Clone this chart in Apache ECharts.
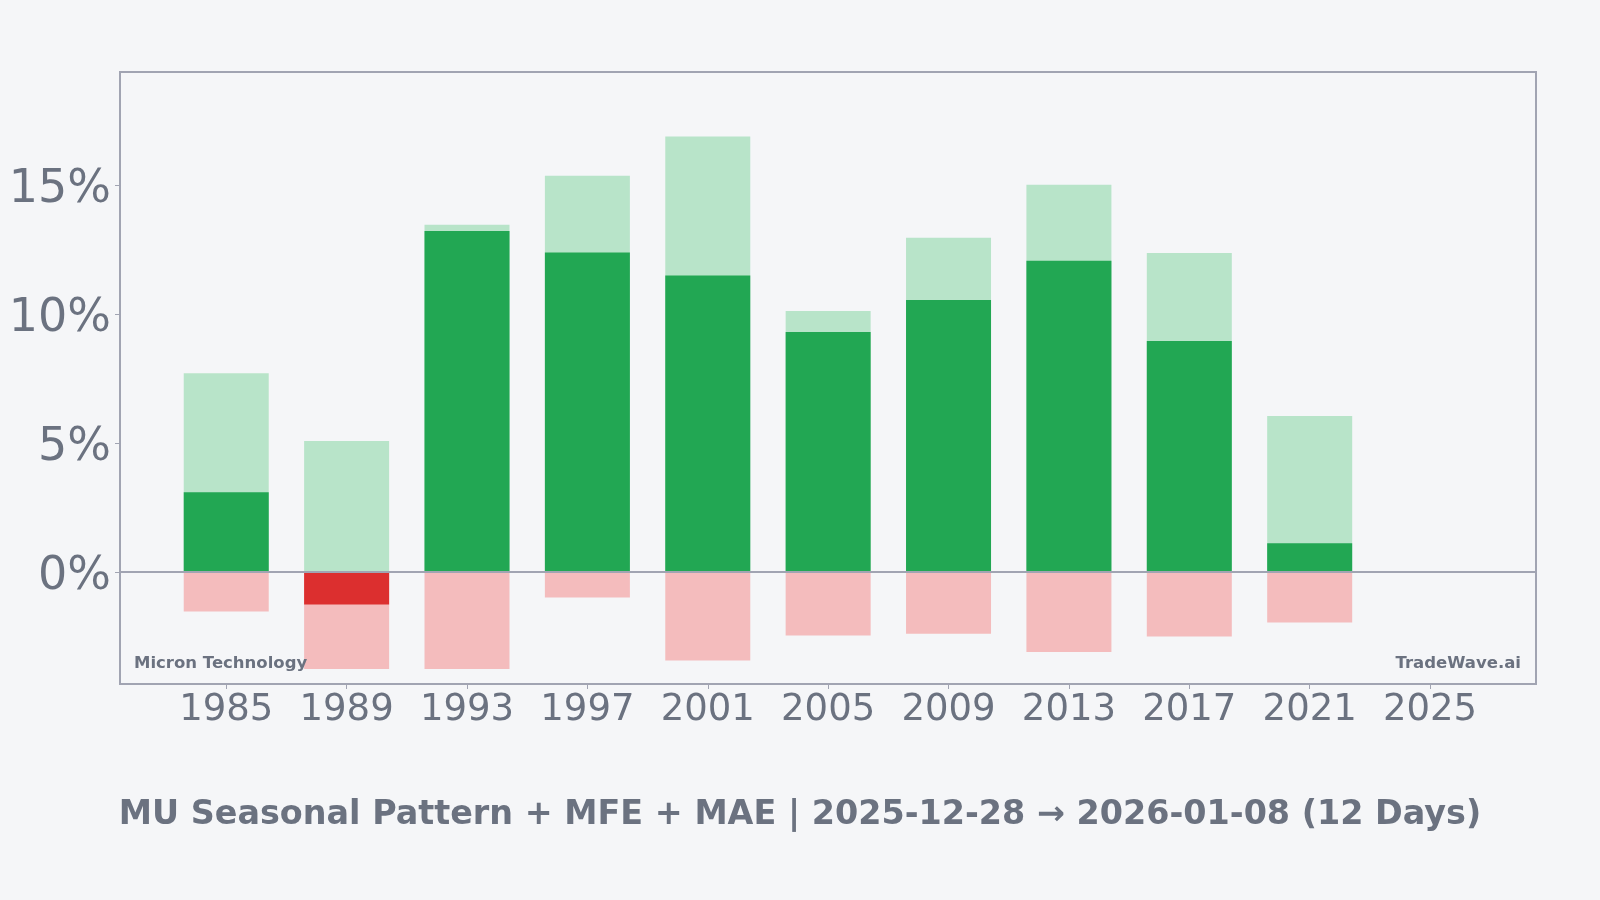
<!DOCTYPE html>
<html>
<head>
<meta charset="utf-8">
<title>MU Seasonal Pattern</title>
<script src="https://cdn.jsdelivr.net/npm/echarts@6/dist/echarts.min.js"></script>
<style>
  html, body { margin: 0; padding: 0; background: #f5f6f8; }
  #chart { width: 1600px; height: 900px; }
</style>
</head>
<body>
<div id="chart"></div>
<script>
// data (percent)
const years = [1985, 1989, 1993, 1997, 2001, 2005, 2009, 2013, 2017, 2021];
const mfe = [7.71, 5.08, 13.46, 15.36, 16.88, 10.12, 12.96, 15.01, 12.37, 6.05];
const mae = [-1.52, -3.75, -3.75, -0.98, -3.42, -2.45, -2.38, -3.09, -2.49, -1.95];
const ret = [3.10, -1.25, 13.22, 12.39, 11.50, 9.31, 10.55, 12.07, 8.96, 1.12];
const xTicks = [1985, 1989, 1993, 1997, 2001, 2005, 2009, 2013, 2017, 2021, 2025];
const yTicks = [0, 5, 10, 15];

const GRAY = '#6b7280';
const BORDER = '#a1a4b2';
const FONT = 'DejaVu Sans';

const chart = echarts.init(document.getElementById('chart'));

/* 方法：组装一列数据 */
function pairs(vals) {
  return years.map((y, i) => [y, vals[i]]);
}

chart.setOption({
  backgroundColor: '#f5f6f8',
  animation: false,
  textStyle: { fontFamily: FONT },
  title: {
    text: 'MU Seasonal Pattern + MFE + MAE | 2025-12-28 \u2192 2026-01-08 (12 Days)',
    left: 'center',
    top: 794,
    textStyle: { color: GRAY, fontSize: 33.4, fontWeight: 'bold', fontFamily: FONT }
  },
  grid: {
    left: 120, right: 64, top: 72, bottom: 216,
    show: true, borderColor: BORDER, borderWidth: 2, backgroundColor: 'transparent'
  },
  xAxis: {
    type: 'value',
    min: 1981.47,
    max: 2028.52,
    splitLine: { show: false },
    axisLine: { show: false, onZero: false },
    axisTick: { show: true, customValues: xTicks, length: 5, lineStyle: { color: BORDER, width: 1 } },
    axisLabel: {
      customValues: xTicks, color: GRAY, fontSize: 37, margin: 8, fontFamily: FONT,
      formatter: v => String(v)
    }
  },
  yAxis: {
    type: 'value',
    min: -4.33,
    max: 19.38,
    splitLine: { show: false },
    axisLine: { show: false, onZero: false },
    axisTick: { show: true, customValues: yTicks, length: 5, lineStyle: { color: BORDER, width: 1 } },
    axisLabel: {
      customValues: yTicks, color: GRAY, fontSize: 46, margin: 9, fontFamily: FONT,
      formatter: v => '{p|' + v + '%}',
      rich: {
        p: { color: GRAY, fontSize: 46, fontFamily: FONT, padding: [10, 0, 0, 0] }
      }
    }
  },
  series: [
    {
      name: 'MFE', type: 'bar', barWidth: 85, barGap: '-100%',
      itemStyle: { color: '#b8e4c9' },
      data: pairs(mfe)
    },
    {
      name: 'MAE', type: 'bar', barWidth: 85, barGap: '-100%',
      itemStyle: { color: '#f4bcbd' },
      data: pairs(mae)
    },
    {
      name: 'Return', type: 'bar', barWidth: 85, barGap: '-100%',
      itemStyle: { color: p => (p.value[1] < 0 ? '#dc2f2f' : '#22a753') },
      data: pairs(ret),
      markLine: {
        silent: true, symbol: 'none', label: { show: false },
        lineStyle: { color: BORDER, width: 2, type: 'solid' },
        data: [{ yAxis: 0 }]
      }
    }
  ],
  graphic: [
    {
      type: 'text', left: 134, top: 655, z: 100,
      style: { text: 'Micron Technology', fill: GRAY, font: 'bold 16.5px "DejaVu Sans"' }
    },
    {
      type: 'text', right: 79, top: 655, z: 100,
      style: { text: 'TradeWave.ai', fill: GRAY, font: 'bold 16.5px "DejaVu Sans"' }
    }
  ]
});
</script>
</body>
</html>
